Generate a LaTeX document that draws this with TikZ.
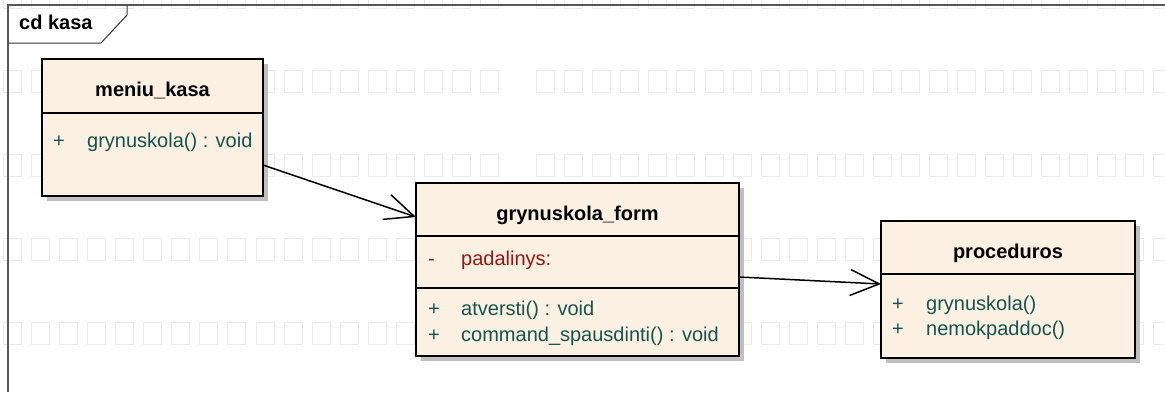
\documentclass[tikz,border=0pt]{standalone}
\usepackage{fontspec}
\setmainfont{Liberation Sans}
\usetikzlibrary{arrows.meta,shadows}

\definecolor{classfill}{RGB}{251,240,225}
\definecolor{optext}{RGB}{22,84,80}
\definecolor{attrtext}{RGB}{150,22,22}

\tikzset{
  classbox/.style={draw,line width=2pt,fill=classfill,anchor=north west,
    inner sep=0pt,outer sep=0pt,
    drop shadow={shadow xshift=5pt,shadow yshift=-5pt,fill=black!25,opacity=1}},
  ctitle/.style={anchor=base,inner sep=0pt,font=\fontsize{20}{24}\selectfont\bfseries},
  member/.style={anchor=base west,inner sep=0pt},
  sepline/.style={line width=2pt},
  assoc/.style={line width=1.5pt,-{Straight Barb[length=29pt,width=26pt]}},
  wmark/.style={draw=black!8,line width=1pt},
  framel/.style={draw=black!65,line width=1.5pt},
}

\begin{document}
\begin{tikzpicture}[x=1pt,y=-1pt,font=\fontsize{20}{24}\selectfont]
\useasboundingbox (0,0) rectangle (1165,392);

% faint watermark boxes
\begin{scope}
\clip (0,0) rectangle (1165,392);
\foreach \r in {-14,70,154,238,322}
  \foreach \k in {0,...,41}
    {\ifnum\k=18\relax\else\draw[wmark] (3.5+28.06*\k,\r) rectangle +(18,22);\fi}
\end{scope}

% diagram frame
\draw[framel] (8,392) -- (8,5) -- (1165,5);
\draw[black!80,line width=1pt] (8,43) -- (101,43) -- (127,15) -- (127,5);
\node [anchor=base west,inner sep=0pt,font=\fontsize{20}{24}\selectfont\bfseries] (frametitle) at (19,29) {cd kasa};

% classes
\draw
    (42,59) node [classbox,minimum width=221pt,minimum height=137pt] (mkasa) {}
    +(110.5,37) node [ctitle] (mkasatitle) {meniu\_kasa}
    +(11,88) node [member,text=optext] (mkasaop) {\makebox[34pt][l]{+}grynuskola() : void};
\draw[sepline] (mkasa.north west) +(0,54) -- +(221,54);

\draw
    (416,183) node [classbox,minimum width=323pt,minimum height=173pt] (gform) {}
    +(161.5,37) node [ctitle] (gformtitle) {grynuskola\_form}
    +(12,82) node [member,text=attrtext] (gformattr) {\makebox[33pt][l]{-}padalinys:}
    +(12,132) node [member,text=optext] (gformopa) {\makebox[33pt][l]{+}atversti() : void}
    +(12,158) node [member,text=optext] (gformopb) {\makebox[33pt][l]{+}command\_spausdinti() : void};
\draw[sepline] (gform.north west) +(0,53) -- +(323,53);
\draw[sepline] (gform.north west) +(0,105) -- +(323,105);

\draw
    (881,221) node [classbox,minimum width=254pt,minimum height=137pt] (proc) {}
    +(127,37) node [ctitle] (proctitle) {proceduros}
    +(11,89) node [member,text=optext] (procopa) {\makebox[34pt][l]{+}grynuskola()}
    +(11,114) node [member,text=optext] (procopb) {\makebox[34pt][l]{+}nemokpaddoc()};
\draw[sepline] (proc.north west) +(0,53) -- +(254,53);

% associations
\draw[assoc] ([yshift=-37.5pt]mkasa.east) -- ([yshift=52.5pt]gform.west);
\draw[assoc] ([yshift=-7.5pt]gform.east) -- ([yshift=5.5pt]proc.west);
\end{tikzpicture}
\end{document}
